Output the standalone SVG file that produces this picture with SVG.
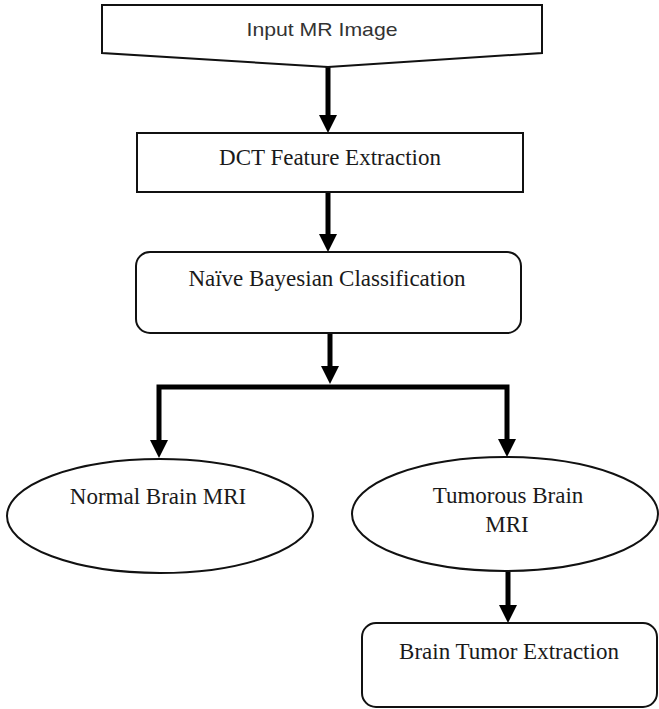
<svg xmlns="http://www.w3.org/2000/svg" width="659" height="709" viewBox="0 0 659 709">
  <defs>
    <marker id="head" markerUnits="userSpaceOnUse" markerWidth="18" markerHeight="18" viewBox="0 0 18 18" refX="8" refY="9" orient="auto">
      <path d="M0,0 L18,9 L0,18 Z" fill="#000"/>
    </marker>
  </defs>
  <style>
    .shape { fill: #fff; stroke: #111; stroke-width: 2; }
    .serif { font-family: "Liberation Serif", "Times New Roman", serif; font-size: 23px; fill: #1a1a1a; text-anchor: middle; }
    .sans { font-family: "Liberation Sans", Arial, sans-serif; font-size: 19px; fill: #333; text-anchor: middle; }
    .flow { fill: none; stroke: #000; stroke-width: 5; marker-end: url(#head); }
  </style>
  <rect width="659" height="709" fill="#fff"/>

  <g id="connectors">
    <line class="flow" x1="328" y1="67" x2="328" y2="123"/>
    <line class="flow" x1="328" y1="192" x2="328" y2="242"/>
    <line class="flow" x1="330" y1="333" x2="330" y2="374"/>
    <path class="flow" d="M330,387 H159 V448"/>
    <path class="flow" d="M330,387 H507 V447"/>
    <line class="flow" x1="508" y1="572" x2="508" y2="613"/>
  </g>

  <g id="input">
    <polygon class="shape" points="102,5 542,5 542,53 328,67 102,53"/>
    <text class="sans" x="322" y="36" textLength="151" lengthAdjust="spacingAndGlyphs">Input MR Image</text>
  </g>

  <g id="dct">
    <rect class="shape" x="137" y="133" width="386" height="59"/>
    <text class="serif" x="330" y="165">DCT Feature Extraction</text>
  </g>

  <g id="bayes">
    <rect class="shape" x="136" y="252" width="385" height="81" rx="14"/>
    <text class="serif" x="327" y="286">Naïve Bayesian Classification</text>
  </g>

  <g id="normal">
    <ellipse class="shape" cx="160" cy="516" rx="153" ry="57"/>
    <text class="serif" x="158" y="504">Normal Brain MRI</text>
  </g>

  <g id="tumorous">
    <ellipse class="shape" cx="505" cy="514" rx="153" ry="57"/>
    <text class="serif" x="508" y="503">Tumorous Brain</text>
    <text class="serif" x="507" y="532">MRI</text>
  </g>

  <g id="extraction">
    <rect class="shape" x="362" y="623" width="295" height="84" rx="14"/>
    <text class="serif" x="509" y="659">Brain Tumor Extraction</text>
  </g>
</svg>
